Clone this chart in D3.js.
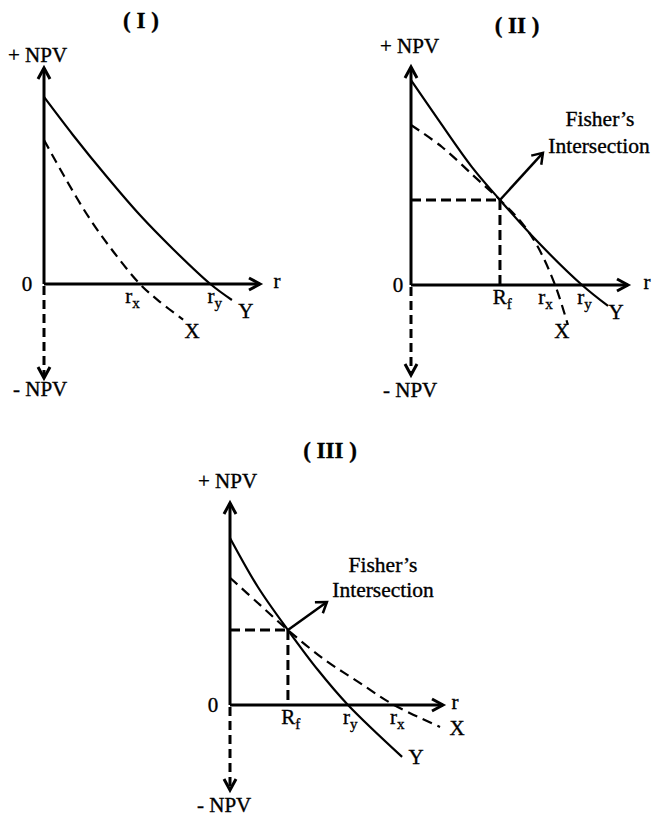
<!DOCTYPE html>
<html><head><meta charset="utf-8">
<script src="https://cdn.jsdelivr.net/npm/d3@7/dist/d3.min.js"></script>
<style>
body{margin:0;background:#fff}
text{font-family:"Liberation Serif","Times New Roman",serif;fill:#000;stroke:#000;stroke-width:0.35px}
</style>
</head><body>
<svg id="c" width="652" height="817"></svg>
<script>
// ---- data (r on the x axis, NPV on the y axis, in panel units 0..10) ----
const titles = ["( I )", "( II )", "( III )"];
const projY_I   = [[0,8.66],[1.34,6.9],[2.92,4.95],[4.44,3.19],[5.97,1.62],[7.7,0],[8.7,-0.74]];
const projX_I   = [[0,6.67],[0.93,5.0],[2.08,3.08],[3.24,1.46],[4.44,0],[5.32,-0.79],[6.44,-1.65]];
const projY_II  = [[0,9.4],[1.24,7.61],[2.81,5.41],[4.1,3.9],[5.85,1.97],[7.88,0],[9.08,-0.96]];
const projX_II  = [[0,7.34],[1.43,6.33],[2.95,4.95],[4.1,3.9],[5.12,2.84],[5.85,1.74],[6.64,0],[7.23,-1.83]];
const projY_III = [[0,8.27],[1.31,5.84],[2.72,3.71],[4.13,1.73],[5.54,0],[8.08,-2.57]];
const projX_III = [[0,6.3],[1.31,5.05],[2.72,3.71],[4.46,2.23],[6.0,1.16],[7.7,0],[9.86,-1.09]];
const fisherPoint = [null, [4.1,3.9], [2.72,3.71]];
const fisherArrow = [null, [6.08,6.06], [4.55,5.1]];
const rateLabels_I   = [["r","x",4.1],["r","y",7.9]];
const rateLabels_II  = [["R","f",4.2],["r","x",6.2],["r","y",8.0]];
const rateLabels_III = [["R","f",2.85],["r","y",5.65],["r","x",7.85]];

// ---- layout ----
const layout = [
  {ox:44, oy:284, xt:260, yt:68, yn:378, title:[141,28], pos:[8,62], neg:[13,396],
   zero:27, rdx:17, lab:[[14,11],[9,11]], fisher:null},
  {ox:411, oy:285, xt:628, yt:67, yn:375, title:[517,33], pos:[380,53], neg:[383,397],
   zero:398, rdx:19, lab:[[8,6],[-6,6]], fisher:[[600,126],[599,153]]},
  {ox:230, oy:705, xt:443, yt:503, yn:790, title:[330,458], pos:[198,488], neg:[197,812],
   zero:213, rdx:12, lab:[[14,0],[17,1]], fisher:[[383,572],[383,597]]}
];
const curves = [[projY_I,projX_I],[projY_II,projX_II],[projY_III,projX_III]];
const rateLabels = [rateLabels_I, rateLabels_II, rateLabels_III];

const svg = d3.select("#c");
const FS = 21;

layout.forEach((L, i) => {
  const g = svg.append("g");
  const x = d3.scaleLinear().domain([0,10]).range([L.ox, L.xt]);
  const y = d3.scaleLinear().domain([0,10]).range([L.oy, L.yt]);
  const yNeg = y.invert(L.yn);

  // title
  g.append("text").attr("x", L.title[0]).attr("y", L.title[1]).attr("text-anchor","middle")
    .attr("font-weight","bold").attr("font-size",23).text(titles[i]);
  // axis labels
  g.append("text").attr("x", L.pos[0]).attr("y", L.pos[1]).attr("font-size",FS).text("+ NPV");
  g.append("text").attr("x", L.neg[0]).attr("y", L.neg[1]).attr("font-size",FS).text("- NPV");
  g.append("text").attr("x", L.zero).attr("y", L.oy+7).attr("text-anchor","middle").attr("font-size",FS).text("0");
  g.append("text").attr("x", L.xt+L.rdx).attr("y", L.oy+4).attr("text-anchor","middle").attr("font-size",FS).text("r");

  // axes
  const ax = g.append("g").attr("fill","none").attr("stroke","#000").attr("stroke-width",3);
  ax.append("line").attr("x1",x(0)).attr("y1",y(0)).attr("x2",x(0)).attr("y2",y(10));
  ax.append("line").attr("x1",x(0)).attr("y1",y(0)).attr("x2",x(10)).attr("y2",y(0));
  ax.append("path").attr("d",`M${x(0)-6},${y(10)+11}L${x(0)},${y(10)}L${x(0)+6},${y(10)+11}`);
  ax.append("path").attr("d",`M${x(10)-11},${y(0)-6}L${x(10)},${y(0)}L${x(10)-11},${y(0)+6}`);
  ax.append("line").attr("x1",x(0)).attr("y1",y(0)+2).attr("x2",x(0)).attr("y2",y(yNeg)-1)
    .attr("stroke-dasharray","9,5");
  ax.append("path").attr("d",`M${x(0)-6},${y(yNeg)-11}L${x(0)},${y(yNeg)}L${x(0)+6},${y(yNeg)-11}`);

  // curves
  const line = d3.line().x(d=>x(d[0])).y(d=>y(d[1])).curve(d3.curveCatmullRom.alpha(0.5));
  const [cy, cx] = curves[i];
  g.append("path").datum(cy).attr("d",line).attr("fill","none").attr("stroke","#000").attr("stroke-width",2.2);
  g.append("path").datum(cx).attr("d",line).attr("fill","none").attr("stroke","#000").attr("stroke-width",2.2)
    .attr("stroke-dasharray","10,6");

  // end labels
  const ey = cy[cy.length-1], ex = cx[cx.length-1];
  g.append("text").attr("x", x(ey[0])+L.lab[0][0]).attr("y", y(ey[1])+L.lab[0][1]+7)
    .attr("text-anchor","middle").attr("font-size",FS).text("Y");
  g.append("text").attr("x", x(ex[0])+L.lab[1][0]).attr("y", y(ex[1])+L.lab[1][1]+7)
    .attr("text-anchor","middle").attr("font-size",FS).text("X");

  // rate labels
  rateLabels[i].forEach(([m, s, v]) => {
    const t = g.append("text").attr("x", x(v)).attr("y", y(0)+19).attr("text-anchor","middle").attr("font-size",FS);
    t.append("tspan").text(m);
    t.append("tspan").attr("dy",5).attr("font-size",15).text(s);
  });

  // Fisher's intersection
  if (fisherPoint[i]) {
    const p = fisherPoint[i], a = fisherArrow[i];
    const dl = g.append("g").attr("stroke","#000").attr("stroke-width",3).attr("stroke-dasharray","10,5");
    dl.append("line").attr("x1",x(0)).attr("y1",y(p[1])).attr("x2",x(p[0])).attr("y2",y(p[1]));
    dl.append("line").attr("x1",x(p[0])).attr("y1",y(p[1])).attr("x2",x(p[0])).attr("y2",y(0));
    const x1 = x(p[0]), y1 = y(p[1]), x2 = x(a[0]), y2 = y(a[1]);
    const ang = Math.atan2(y2-y1, x2-x1), hl = 12, ha = 0.6;
    const ar = g.append("g").attr("stroke","#000").attr("stroke-width",2.5).attr("fill","none");
    ar.append("line").attr("x1",x1).attr("y1",y1).attr("x2",x2).attr("y2",y2);
    ar.append("path").attr("d",
      `M${x2-hl*Math.cos(ang-ha)},${y2-hl*Math.sin(ang-ha)}L${x2},${y2}L${x2-hl*Math.cos(ang+ha)},${y2-hl*Math.sin(ang+ha)}`);
    g.append("text").attr("x",L.fisher[0][0]).attr("y",L.fisher[0][1]).attr("text-anchor","middle")
      .attr("font-size",21.5).text("Fisher’s");
    g.append("text").attr("x",L.fisher[1][0]).attr("y",L.fisher[1][1]).attr("text-anchor","middle")
      .attr("font-size",21.5).text("Intersection");
  }
});
</script>
</body></html>
